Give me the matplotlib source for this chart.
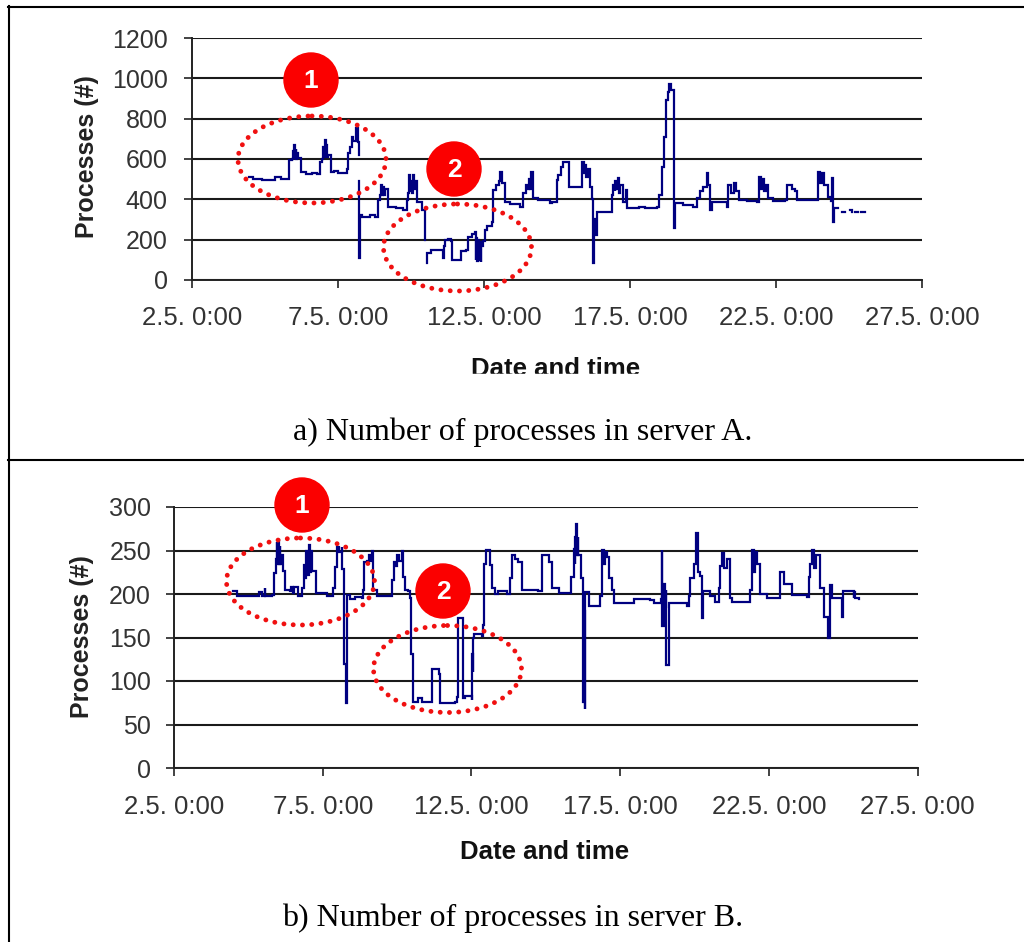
#!/usr/bin/env python3
# -*- coding: utf-8 -*-
import numpy as np
import matplotlib
matplotlib.use('Agg')
import matplotlib.pyplot as plt
from matplotlib.patches import Ellipse, Circle, Rectangle

nan = np.nan

# x values are days since 2.5. 0:00, nan breaks the line
# Server A
days_a = [1.95, 2.05, 2.1, 2.16, 2.4, 2.73, 2.84, 3.0, 3.05, 3.24, 3.33, 3.42, 3.46, 3.49, 3.51, 3.53, 3.55, 3.57, 3.6, 3.64, 3.72, 3.85, 3.9, 4.1, 4.27,
          4.38, 4.46, 4.5, 4.53, 4.55, 4.58, 4.6, 4.62, 4.67, 4.75, 4.85, 5.0, 5.3, 5.35, 5.42, 5.47, 5.53, 5.6, 5.67, 5.73, nan,
          5.73, 5.73, 5.74, 5.81, 6.1, 6.28, 6.38, 6.44, 6.47, 6.5, 6.53, 6.58, 6.62, 6.72, 7.0, 7.24, nan, 7.3, 7.35, 7.4, 7.44, 7.47, 7.5, 7.53, 7.56, 7.6, 7.64, 7.7, 7.87, 7.98, 7.98, nan,
          8.04, 8.04, 8.2, 8.55, 8.6, 8.63, 8.66, 8.75, 8.86, 8.9, 9.2, 9.4, 9.46, 9.6, 9.69, 9.72, 9.74, 9.77, 9.8, 9.83, 9.86, 9.89, 9.9, 9.95, 10.03, 10.1, 10.26, 10.32, 10.42, 10.5, 10.55, 10.6, 10.72, 10.9, 11.23,
          11.35, 11.45, 11.5, 11.54, 11.58, 11.62, 11.69, 11.85, 12.26, 12.32, 12.49, 12.55, 12.63, 12.72, 12.9, 13.29, 13.35, 13.41, 13.45, 13.5, 13.55, 13.63, 13.68, 13.7, 13.72, 13.75, 13.8, 13.86, 14.32,
          14.37, 14.42, 14.47, 14.5, 14.55, 14.58, 14.62, 14.66, 14.75, 14.87, 14.87, 14.91, 15.3, 15.5, 15.92, 16.01, 16.09, 16.17, 16.23, 16.3, 16.35, 16.4, 16.49, 16.52, 16.52, 16.53, 16.8, 17.17,
          17.31, 17.4, 17.51, 17.63, 17.66, 17.74, 17.8, 18.31, 18.37, 18.45, 18.55, 18.62, 18.73, 19.0, 19.34, 19.42, 19.5, 19.55, 19.6, 19.66, 19.74, 19.9, 20.31, 20.37, 20.55, 20.65, 20.71, 21.0, 21.34,
          21.45, 21.52, 21.58, 21.66, 21.79, 21.9, 21.92, 21.96, 21.98, 22.14, nan, 22.25, 22.36, nan, 22.54, 22.6, nan, 22.71, 22.8, nan, 22.9, 23.05]
procs_a = [512, 510, 500, 500, 496, 496, 512, 510, 500, 500, 595, 600, 640, 600, 670, 610, 650, 600, 630, 603, 537, 535, 525, 530, 525,
           587, 600, 660, 610, 694, 610, 670, 610, 620, 537, 540, 530, 549, 628, 660, 710, 690, 752, 686, 620, nan,
           490, 107, 320, 314, 320, 314, 397, 420, 471, 420, 460, 420, 450, 364, 355, 347, nan, 347, 397, 430, 520, 440, 490, 430, 520, 450, 490, 388, 347, 347, 198, nan,
           83, 132, 150, 149, 107, 170, 198, 205, 195, 99, 145, 149, 215, 230, 240, 100, 210, 95, 200, 100, 190, 91, 170, 195, 248, 270, 289, 446, 470, 490, 537, 480, 388, 375, 364,
           430, 470, 450, 500, 450, 537, 405, 395, 383, 388, 496, 520, 562, 587, 463, 463, 587, 530, 570, 510, 550, 463, 463, 400, 83, 300, 223, 339, 339,
           421, 470, 440, 490, 450, 504, 430, 470, 388, 400, 446, 355, 360, 355, 364, 421, 562, 711, 893, 930, 972, 940, 939, 595, 256, 380, 372, 364,
           405, 440, 463, 529, 470, 347, 388, 364, 471, 430, 480, 440, 397, 390, 388, 512, 450, 500, 440, 470, 405, 392, 397, 471, 450, 440, 397, 397, 397,
           537, 480, 530, 470, 413, 390, 504, 289, 355, 355, nan, 339, 339, nan, 345, 339, nan, 339, 339, nan, 339, 339]

# Server B
days_b = [2.0, 2.11, 2.5, 2.8, 2.86, 2.95, 3.05, 3.06, 3.1, 3.28, 3.36, 3.42, 3.45, 3.47, 3.49, 3.52, 3.55, 3.58, 3.62, 3.68, 3.73, 3.9, 3.95, 4.0, 4.05, 4.18, 4.29, 4.38, 4.41, 4.45, 4.5, 4.53, 4.57, 4.6, 4.64, 4.69, 4.76, 5.13,
          5.34, 5.41, 5.47, 5.55, 5.64, 5.66, 5.72, 5.72, 5.77, 5.81, 5.92, 6.1, 6.31, 6.37, 6.4, 6.5, 6.55, 6.6, 6.65, 6.7, 6.82, 7.21, 7.32, 7.4, 7.45, 7.49, 7.55, 7.66, 7.71, 7.77, 7.88, 7.92, 7.96, 8.03, 8.22, 8.33, 8.67,
          8.69, 8.92, 8.95, 9.45, 9.52, 9.54, 9.71, 9.73, 9.78, 10.01, 10.03, 10.05, 10.07, 10.09, 10.35, 10.4, 10.44, 10.49, 10.63, 10.68, 10.8, 10.9, 11.19, 11.3, 11.38, 11.45, 11.58, 11.69, 12.25,
          12.37, 12.6, 12.71, 12.95, 13.27, 13.35, 13.44, 13.47, 13.5, 13.52, 13.55, 13.58, 13.6, 13.69, 13.75, 13.75, 13.77, 13.81, 13.83, 13.95, 14.23, 14.32, 14.39, 14.45, 14.5, 14.56, 14.62, 14.73, 14.79, 15.12, 15.46, 16.02, 16.13, 16.36, 16.41, 16.41, 16.47, 16.5, 16.53, 16.56, 16.56, 16.64, 17.25,
          17.31, 17.36, 17.48, 17.56, 17.62, 17.68, 17.74, 17.77, 17.8, 18.03, 18.2, 18.32, 18.37, 18.43, 18.5, 18.58, 18.71, 18.77, 19.27, 19.38, 19.44, 19.5, 19.55, 19.62, 19.7, 19.95, 20.28, 20.37, 20.5, 20.67, 20.78, 21.29,
          21.34, 21.4, 21.46, 21.52, 21.6, 21.71, 21.85, 21.87, 21.99, 21.99, 22.05, 22.07, 22.13, 22.47, 22.47, 22.49, 22.85, 22.86, 22.9, 23.03]
procs_b = [203, 198, 198, 198, 202, 198, 207, 198, 198, 199, 224, 240, 260, 235, 262, 235, 255, 235, 245, 226, 205, 203, 208, 201, 208, 198, 207, 233, 218, 250, 222, 256, 225, 250, 226, 226, 201, 198,
           207, 231, 254, 248, 254, 229, 213, 120, 75, 199, 194, 196, 195, 205, 237, 238, 245, 238, 249, 205, 198, 198, 216, 237, 232, 245, 238, 249, 219, 205, 203, 195, 131, 76, 80, 76, 78,
           114, 108, 75, 76, 82, 172, 163, 81, 83, 78, 131, 110, 150, 154, 152, 164, 235, 251, 233, 207, 200, 204, 200, 218, 245, 240, 237, 205, 203,
           245, 237, 207, 201, 201, 220, 252, 235, 265, 281, 245, 265, 245, 218, 197, 76, 180, 68, 202, 186, 186, 198, 251, 235, 248, 243, 218, 205, 190, 190, 194, 193, 190, 194, 251, 163, 212, 185, 205, 197, 118, 190, 186,
           198, 218, 235, 270, 225, 221, 204, 172, 203, 198, 191, 207, 232, 247, 230, 240, 195, 191, 191, 205, 251, 225, 248, 235, 200, 195, 195, 225, 212, 212, 199, 197,
           220, 235, 251, 230, 245, 207, 199, 174, 174, 150, 178, 210, 195, 195, 174, 203, 195, 202, 195, 194]

xticks = [0, 5, 10, 15, 20, 25]
xlabels = ['2.5. 0:00', '7.5. 0:00', '12.5. 0:00', '17.5. 0:00', '22.5. 0:00', '27.5. 0:00']
yticks_a = [0, 200, 400, 600, 800, 1000, 1200]
yticks_b = [0, 50, 100, 150, 200, 250, 300]

W, H = 1024, 942
plt.rcParams['font.family'] = ['Liberation Sans', 'DejaVu Sans']
fig = plt.figure(figsize=(W/100, H/100), dpi=100, facecolor='white')


def make_panel(box, days, procs, yticks, ymax, ypad, xpad):
    left, top, right, bottom = box
    ax = fig.add_axes([left/W, 1-bottom/H, (right-left)/W, (bottom-top)/H])
    ax.plot(days, procs, color='#000080', lw=1.6, drawstyle='steps-post', solid_joinstyle='miter', zorder=3)
    ax.set_xlim(0, 25)
    ax.set_ylim(0, ymax)
    ax.set_xticks(xticks)
    ax.set_xticklabels(xlabels, color='#333333', fontsize=18.5)
    ax.set_yticks(yticks)
    ax.tick_params(axis='y', direction='out', length=5.5, width=1.2, pad=ypad, labelsize=18, labelcolor='#333333', color='#222222')
    ax.tick_params(axis='x', direction='out', length=5.5, width=1.2, pad=xpad, color='#222222')
    ax.grid(axis='y', color='#1a1a1a', linewidth=1.5, zorder=1)
    ax.set_axisbelow(True)
    for side in ['top', 'right']:
        ax.spines[side].set_visible(False)
    for side in ['left', 'bottom']:
        ax.spines[side].set_color('#222222')
        ax.spines[side].set_linewidth(1.4)
    return ax


ax_a = make_panel((192, 38, 922, 280), days_a, procs_a, yticks_a, 1200, 12, 13.5)
ax_b = make_panel((174, 507, 917.5, 768), days_b, procs_b, yticks_b, 300, 11, 14)

# overlay in picture pixels for the frame, captions and the red callouts
over = fig.add_axes([0, 0, 1, 1], zorder=5)
over.set_xlim(0, W)
over.set_ylim(H, 0)
over.axis('off')
over.patch.set_alpha(0)

over.plot([8, W], [6.5, 6.5], color='black', lw=1.5)
over.plot([8, W], [459.5, 459.5], color='black', lw=1.5)
over.plot([8.5, 8.5], [6, H], color='black', lw=1.5)

for cx, cy in [(556, 369), (545, 852)]:
    over.text(cx, cy, 'Date and time', fontsize=18.5, fontweight='bold', ha='center', va='center', color='#111111')
over.add_patch(Rectangle((440, 374), 240, 14, color='white', zorder=4))

for x, y in [(87, 157), (82, 637)]:
    over.text(x, y, 'Processes (#)', fontsize=18, fontweight='bold', rotation=90, ha='center', va='center', color='#222222')

over.text(523, 432, 'a) Number of processes in server A.', family='Liberation Serif', fontsize=23, ha='center', va='center', color='black')
over.text(513, 918, 'b) Number of processes in server B.', family='Liberation Serif', fontsize=23, ha='center', va='center', color='black')

ellipses = [(312, 159.5), (457.5, 247.5), (300.5, 581.5), (447.5, 669)]
for cx, cy in ellipses:
    e = Ellipse((cx, cy), 148, 87, fill=False, edgecolor='#f01010', lw=3.5, linestyle=(0, (0.01, 1.9)), capstyle='round', zorder=6)
    over.add_patch(e)

circles = [(311, 80, '1'), (454, 169, '2'), (302, 505, '1'), (443, 591, '2')]
for cx, cy, num in circles:
    over.add_patch(Circle((cx, cy), 27, color='#fb0000', zorder=7))
    over.text(cx, cy+1, num, color='white', fontsize=19, fontweight='bold', ha='center', va='center', zorder=8)

plt.savefig('out.png', dpi=100)
